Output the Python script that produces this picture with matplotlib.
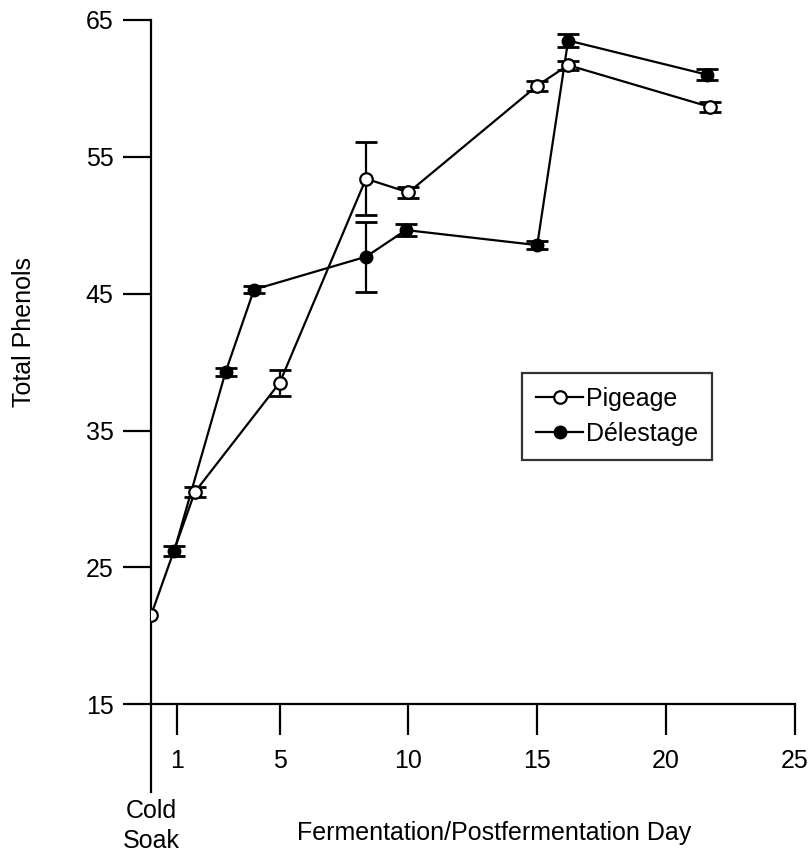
import matplotlib
matplotlib.use("Agg")
import matplotlib.pyplot as plt
import matplotlib.transforms as mtransforms

plt.rcParams['font.family'] = ['Liberation Sans', 'DejaVu Sans']

# Pigeage (open circles)
pig_day = [0.0, 1.7, 5.0, 8.35, 10.0, 15.0, 16.2, 21.7]
pig_val = [21.5, 30.5, 38.5, 53.4, 52.4, 60.2, 61.7, 58.65]
pig_err = [0.0, 0.37, 0.95, 2.65, 0.38, 0.37, 0.33, 0.37]

# Delestage (filled circles)
del_day = [0.9, 2.9, 4.0, 8.35, 9.9, 15.0, 16.2, 21.6]
del_val = [26.2, 39.3, 45.3, 47.7, 49.65, 48.55, 63.5, 61.0]
del_err = [0.35, 0.3, 0.25, 2.55, 0.42, 0.3, 0.5, 0.4]

xticks = [1, 5, 10, 15, 20, 25]
yticks = [15, 25, 35, 45, 55, 65]

fig = plt.figure(figsize=(8.11, 8.61), dpi=100)
ax = fig.add_axes([0.1862, 0.182, 0.7937, 0.7948])

lw = 1.6
for d, v, e in [(pig_day, pig_val, pig_err), (del_day, del_val, del_err)]:
    # points without a measured spread get no bar
    keep = [i for i in range(len(e)) if e[i] > 0]
    ax.errorbar([d[i] for i in keep], [v[i] for i in keep],
                yerr=[e[i] for i in keep], fmt='none', ecolor='k',
                elinewidth=lw, capsize=8, capthick=lw + 0.4, zorder=2)

ax.plot(del_day, del_val, '-o', color='k', lw=lw, ms=9, mfc='k', mec='k',
        label='Délestage', zorder=3)
ax.plot(pig_day, pig_val, '-o', color='k', lw=lw, ms=9, mfc='white', mec='k',
        mew=1.6, label='Pigeage', zorder=4)

ax.set_xlim(0, 25)
ax.set_ylim(15, 65)
ax.set_xticks(xticks)
ax.set_yticks(yticks)

for s in ['top', 'right']:
    ax.spines[s].set_visible(False)
for s in ['left', 'bottom']:
    ax.spines[s].set_linewidth(lw)

ax.tick_params(axis='x', direction='out', length=22, width=lw, pad=10, labelsize=18)
ax.tick_params(axis='y', direction='out', length=20, width=lw, pad=7, labelsize=18)

# y axis continues below the x axis down to the "Cold Soak" label
ax.axvline(0, ymin=-0.128, ymax=0, color='k', lw=lw, clip_on=False)

trans = mtransforms.blended_transform_factory(ax.transData, ax.transAxes)
ax.text(0, -0.138, 'Cold\nSoak', transform=trans, ha='center', va='top',
        fontsize=18, linespacing=1.35)

ax.set_xlabel('Fermentation/Postfermentation Day', fontsize=18)
ax.xaxis.set_label_coords(0.533, -0.1705)
ax.set_ylabel('Total Phenols', fontsize=18)
ax.yaxis.set_label_coords(-0.178, 0.544)

handles, labels = ax.get_legend_handles_labels()
leg = ax.legend(handles[::-1], labels[::-1], loc='upper left',
                bbox_to_anchor=(0.5764, 0.4841), borderaxespad=0,
                fontsize=18, frameon=True, fancybox=False, handlelength=1.9,
                handletextpad=0.1, labelspacing=0.45, borderpad=0.55)
leg.get_frame().set_edgecolor('k')
leg.get_frame().set_linewidth(lw)

fig.savefig('out.png', dpi=100)
